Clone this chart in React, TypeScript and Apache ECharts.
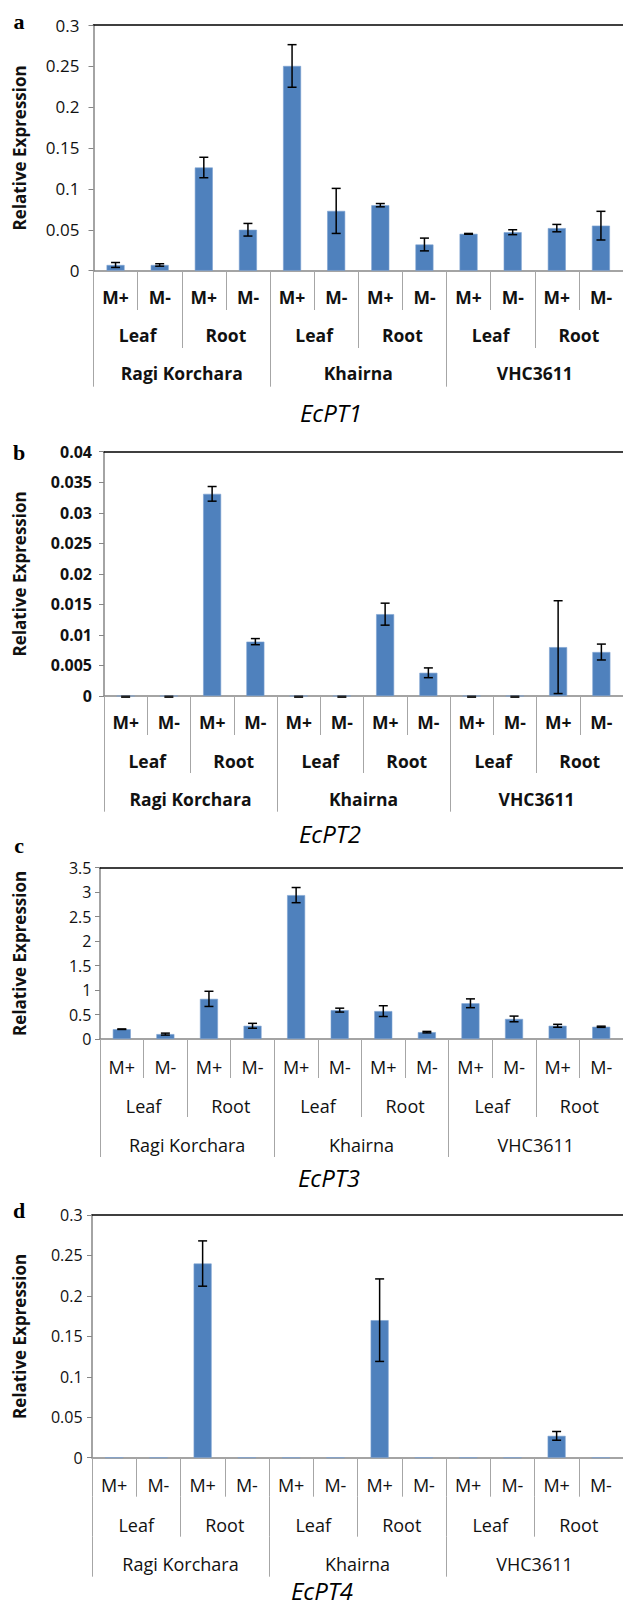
import React, { useEffect, useRef } from "react";
import * as echarts from "echarts";

// ---- data ----
const conditionLabels = ["M+", "M-", "M+", "M-", "M+", "M-", "M+", "M-", "M+", "M-", "M+", "M-"];
const tissueLabels = ["Leaf", "Root", "Leaf", "Root", "Leaf", "Root"];
const varietyLabels = ["Ragi Korchara", "Khairna", "VHC3611"];

const ecpt1Values = [0.007, 0.007, 0.126, 0.05, 0.25, 0.073, 0.08, 0.032, 0.045, 0.047, 0.052, 0.055];
const ecpt1Errors = [0.003, 0.0015, 0.0125, 0.0077, 0.026, 0.0275, 0.002, 0.0078, 0.0005, 0.003, 0.0045, 0.0175];

const ecpt2Values = [0, 0, 0.0331, 0.0089, 0, 0, 0.0134, 0.0038, 0, 0, 0.008, 0.0072];
const ecpt2Errors = [0, 0, 0.0012, 0.0005, 0, 0, 0.0018, 0.0008, 0, 0, 0.0076, 0.0013];

const ecpt3Values = [0.2, 0.1, 0.82, 0.27, 2.94, 0.59, 0.57, 0.14, 0.73, 0.41, 0.27, 0.25];
const ecpt3Errors = [0.005, 0.02, 0.155, 0.05, 0.155, 0.04, 0.11, 0.015, 0.09, 0.058, 0.03, 0.012];

const ecpt4Values = [0, 0, 0.24, 0, 0, 0, 0.17, 0, 0, 0, 0.027, 0];
const ecpt4Errors = [null, null, 0.028, null, null, null, 0.051, null, null, null, 0.0054, null];

const geneNames = ["EcPT1", "EcPT2", "EcPT3", "EcPT4"];
const panelLetters = ["a", "b", "c", "d"];
const axisMax = [0.3, 0.04, 3.5, 0.3];
const axisInterval = [0.05, 0.005, 0.5, 0.05];

const seriesValues = [ecpt1Values, ecpt2Values, ecpt3Values, ecpt4Values];
const seriesErrors: (number | null)[][] = [ecpt1Errors, ecpt2Errors, ecpt3Errors, ecpt4Errors];

// ---- layout (pixels) ----
const layouts = [
  { left: 93.5, top: 25, zero: 270.7, l2: 310, l3: 348, end: 386.7, bold: true, boldY: false, yFont: 17, yMargin: 14, catFont: 17.5, margins: [26, 25, 24.7], letterY: 21.7, titleX: 331, titleY: 412.5 },
  { left: 104, top: 451.7, zero: 696, l2: 735, l3: 773, end: 811.7, bold: true, boldY: true, yFont: 16, yMargin: 12, catFont: 17.5, margins: [26, 25.5, 26], letterY: 452.7, titleX: 330, titleY: 833 },
  { left: 100, top: 867.7, zero: 1039, l2: 1078, l3: 1117, end: 1157, bold: false, boldY: false, yFont: 16, yMargin: 8.6, catFont: 18, margins: [27.5, 27.5, 28], letterY: 845, titleX: 329, titleY: 1177.5 },
  { left: 92, top: 1215, zero: 1457.7, l2: 1496.7, l3: 1536.7, end: 1576.7, bold: false, boldY: false, yFont: 16, yMargin: 9.4, catFont: 18, margins: [27.5, 28, 27], letterY: 1210, titleX: 322, titleY: 1590 },
];

const FONT = "'Open Sans', 'Noto Sans', sans-serif";
const TEXT = "#111";
const AXIS_GRAY = "#868686";
const SEP_GRAY = "#a6a6a6";
const BAR_BLUE = "#4F81BD";

function buildOption() {
  const grid: any[] = [];
  const xAxis: any[] = [];
  const yAxis: any[] = [];
  const series: any[] = [];
  const graphic: any[] = [];

  layouts.forEach((L, i) => {
    grid.push({ left: L.left, top: L.top, right: 0, height: L.zero - L.top, outerBoundsMode: "none", containLabel: false });
    const catLabel = (m: number) => ({
      interval: 0,
      margin: m,
      verticalAlign: "middle",
      fontSize: L.catFont,
      fontWeight: L.bold ? "bold" : "normal",
      fontFamily: FONT,
      color: TEXT,
    });
    // level 1
    xAxis.push({
      type: "category",
      gridIndex: i,
      position: "bottom",
      data: conditionLabels,
      boundaryGap: true,
      axisLine: { show: true, lineStyle: { color: AXIS_GRAY, width: 1.5 } },
      axisTick: { show: true, interval: 0, length: L.l2 - L.zero, lineStyle: { color: SEP_GRAY, width: 1 } },
      axisLabel: catLabel(L.margins[0]),
      splitLine: { show: false },
    });
    // level 2
    xAxis.push({
      type: "category",
      gridIndex: i,
      position: "bottom",
      offset: L.l2 - L.zero,
      data: tissueLabels,
      boundaryGap: true,
      axisLine: { show: false },
      axisTick: { show: true, interval: 0, length: L.l3 - L.l2, lineStyle: { color: SEP_GRAY, width: 1 } },
      axisLabel: catLabel(L.margins[1]),
      splitLine: { show: false },
    });
    // level 3
    xAxis.push({
      type: "category",
      gridIndex: i,
      position: "bottom",
      offset: L.l3 - L.zero,
      data: varietyLabels,
      boundaryGap: true,
      axisLine: { show: false },
      axisTick: { show: true, interval: 0, length: L.end - L.l3, lineStyle: { color: SEP_GRAY, width: 1 } },
      axisLabel: catLabel(L.margins[2]),
      splitLine: { show: false },
    });
    // top border line
    xAxis.push({
      type: "category",
      gridIndex: i,
      position: "top",
      data: conditionLabels,
      axisLine: { show: true, lineStyle: { color: "#000", width: 1.5 } },
      axisTick: { show: false },
      axisLabel: { show: false },
      splitLine: { show: false },
    });
    yAxis.push({
      type: "value",
      gridIndex: i,
      min: 0,
      max: axisMax[i],
      interval: axisInterval[i],
      axisLine: { show: true, lineStyle: { color: AXIS_GRAY, width: 1.5 } },
      axisTick: { show: true, length: 5, inside: false, lineStyle: { color: AXIS_GRAY } },
      splitLine: { show: false },
      axisLabel: {
        fontSize: L.yFont,
        fontWeight: L.boldY ? "bold" : "normal",
        fontFamily: FONT,
        color: TEXT,
        margin: L.yMargin,
      },
    });
    series.push({
      type: "bar",
      xAxisIndex: i * 4,
      yAxisIndex: i,
      data: seriesValues[i],
      barWidth: 18,
      itemStyle: { color: BAR_BLUE, borderColor: "#7ea3d2", borderWidth: 0.6 },
      z: 2,
    });
    const errData = seriesValues[i]
      .map((v, j) => [j, v, seriesErrors[i][j]])
      .filter((d) => d[2] !== null && d[2] !== undefined);
    series.push({
      type: "custom",
      xAxisIndex: i * 4,
      yAxisIndex: i,
      data: errData,
      encode: { x: 0, y: 1 },
      z: 10,
      renderItem: (params: any, api: any) => {
        const x = api.value(0);
        const v = api.value(1);
        const e = api.value(2);
        const hi = api.coord([x, v + e]);
        const lo = api.coord([x, v - e]);
        const cx = hi[0];
        const w = 4.5;
        if (e === 0) {
          return {
            type: "rect",
            shape: { x: cx - w, y: hi[1] - 0.5, width: 2 * w, height: 2.5 },
            style: { fill: "#222" },
          };
        }
        const st = { stroke: "#000", lineWidth: 1.5 };
        return {
          type: "group",
          children: [
            { type: "line", shape: { x1: cx, y1: hi[1], x2: cx, y2: lo[1] }, style: st },
            { type: "line", shape: { x1: cx - w, y1: hi[1], x2: cx + w, y2: hi[1] }, style: st },
            { type: "line", shape: { x1: cx - w, y1: lo[1], x2: cx + w, y2: lo[1] }, style: st },
          ],
        };
      },
    });

    graphic.push({
      type: "text",
      x: 19,
      y: L.letterY,
      style: {
        text: panelLetters[i],
        fontSize: 22,
        fontWeight: "bold",
        fontFamily: "'Liberation Serif', 'DejaVu Serif', serif",
        fill: "#000",
        align: "center",
        verticalAlign: "middle",
      },
    });
    graphic.push({
      type: "text",
      x: 19.5,
      y: (L.top + L.zero) / 2,
      rotation: Math.PI / 2,
      style: {
        text: "Relative Expression",
        fontSize: 17,
        fontWeight: "bold",
        fontFamily: FONT,
        fill: TEXT,
        align: "center",
        verticalAlign: "middle",
      },
    });
    graphic.push({
      type: "text",
      x: L.titleX,
      y: L.titleY,
      style: {
        text: geneNames[i],
        fontSize: 24,
        fontStyle: "italic",
        fontFamily: FONT,
        fill: "#000",
        align: "center",
        verticalAlign: "middle",
      },
    });
  });

  return {
    animation: false,
    backgroundColor: "#fff",
    grid,
    xAxis,
    yAxis,
    series,
    graphic,
  };
}

export default function App() {
  const ref = useRef<HTMLDivElement>(null);
  useEffect(() => {
    if (!ref.current) return;
    const chart = echarts.init(ref.current, undefined, { renderer: "svg" });
    chart.setOption(buildOption() as any);
    return () => {
      chart.dispose();
    };
  }, []);
  return (
    <div
      ref={ref}
      style={{ position: "absolute", left: 0, top: 0, width: 623, height: 1606, background: "#fff" }}
    />
  );
}
